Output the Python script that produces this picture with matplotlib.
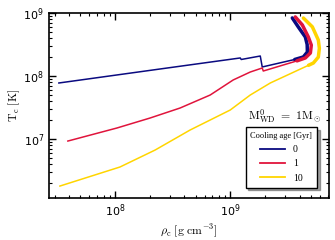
import numpy as np
import matplotlib
matplotlib.use("Agg")
import matplotlib.pyplot as plt

# =========================
# DATA (log10 values)
# =========================
ages = ["0", "1", "10"]
colors = ["#0a0a80", "#e0143c", "#ffd500"]

log_rho_0 = [7.513, 8.391, 9.087, 9.096, 9.261, 9.278, 9.560, 9.635, 9.670, 9.668, 9.652, 9.591, 9.539]
log_T_0 = [7.889, 8.111, 8.286, 8.262, 8.317, 8.143, 8.262, 8.302, 8.381, 8.50, 8.619, 8.778, 8.921]

log_rho_1 = [7.591, 8.017, 8.304, 8.565, 8.826, 9.026, 9.174, 9.278, 9.287, 9.580,
             9.652, 9.696, 9.704, 9.678, 9.626, 9.565]
log_T_1 = [6.968, 7.175, 7.333, 7.492, 7.698, 7.937, 8.063, 8.127, 8.079, 8.240,
           8.286, 8.365, 8.49, 8.62, 8.81, 8.937]

log_rho_10 = [7.522, 8.043, 8.348, 8.652, 9.0, 9.174, 9.348, 9.591, 9.680,
              9.722, 9.765, 9.774, 9.765, 9.713, 9.635]
log_T_10 = [6.254, 6.556, 6.825, 7.143, 7.46, 7.698, 7.889, 8.095, 8.170,
            8.206, 8.30, 8.44, 8.57, 8.78, 8.92]

# index where the thick part of each track (the curl) starts
thick_start = [6, 9, 8]

series = [(log_rho_0, log_T_0), (log_rho_1, log_T_1), (log_rho_10, log_T_10)]

# =========================
# PLOT
# =========================
plt.rcParams["mathtext.fontset"] = "cm"
plt.rcParams["font.family"] = "DejaVu Sans"

fig = plt.figure(figsize=(3.35, 2.4), dpi=100)
ax = fig.add_axes([0.146, 0.175, 0.836, 0.771])

for (lr, lt), c, lab, k in zip(series, colors, ages, thick_start):
    rho = 10 ** np.array(lr)
    T = 10 ** np.array(lt)
    ax.plot(rho, T, color=c, lw=1.1, label=lab)
    ax.plot(rho[k:], T[k:], color=c, lw=2.5, solid_capstyle="round")

ax.set_xscale("log")
ax.set_yscale("log")
ax.set_xlim(2.67e7, 7.2e9)
ax.set_ylim(1.16e6, 1e9)

ax.tick_params(which="both", direction="in", top=True, right=True, labelsize=8)
ax.tick_params(which="major", length=5, width=1)
ax.tick_params(which="minor", length=2.5, width=0.8)
for s in ax.spines.values():
    s.set_linewidth(1.2)

ax.set_xlabel(r"$\rho_\mathrm{c}\ [\mathrm{g\ cm^{-3}}]$", fontsize=8.5, labelpad=2)
ax.set_ylabel(r"$\mathrm{T_c\ [K]}$", fontsize=8.5, labelpad=1)

ax.text(0.975, 0.44, r"$\mathrm{M^{0}_{WD}\ =\ 1M_\odot}$", transform=ax.transAxes,
        ha="right", va="center", fontsize=8.5)

leg = ax.legend(loc="lower right", bbox_to_anchor=(0.975, 0.03), title="Cooling age [Gyr]",
                prop={"family": "Liberation Serif", "size": 7}, frameon=True, fancybox=False,
                shadow=True, handlelength=2.6, labelspacing=0.55, borderpad=0.5)
leg.get_title().set_fontfamily("Liberation Serif")
leg.get_title().set_fontsize(6)
leg.get_frame().set_edgecolor("black")
leg.get_frame().set_linewidth(1.0)
for line in leg.get_lines():
    line.set_linewidth(1.3)

fig.savefig("out.png", dpi=100)
